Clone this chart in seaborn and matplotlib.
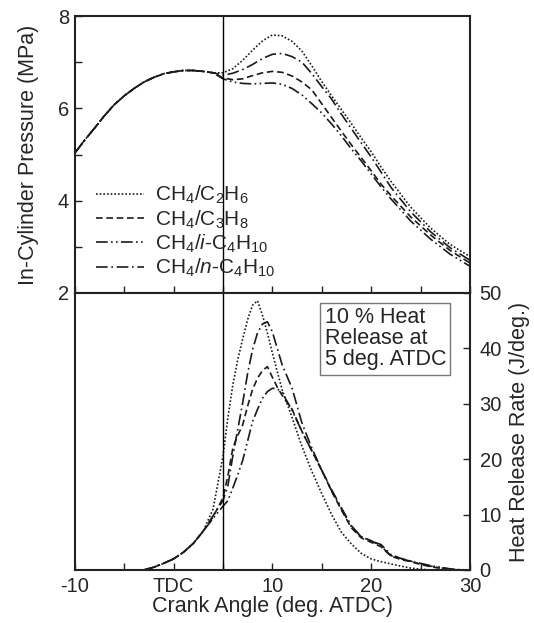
import matplotlib
matplotlib.use("Agg")
import matplotlib.pyplot as plt
import seaborn as sns
import numpy as np

# ---------------- data ----------------
theta_p = [-10, -9, -8, -7, -6, -5, -4, -3, -2, -1, 0, 1, 2, 3, 4, 5, 6, 7, 8, 9, 10,
           11, 12, 13, 14, 15, 16, 17, 18, 19, 20, 21, 22, 24, 26, 28, 30]
p_common = [5.03, 5.31, 5.57, 5.84, 6.08, 6.27, 6.43, 6.57, 6.67, 6.75, 6.79, 6.82,
            6.82, 6.80, 6.77]
p_c2h6 = p_common + [6.77, 6.86, 7.04, 7.26, 7.46, 7.59, 7.57, 7.45, 7.24, 6.92, 6.58,
                     6.27, 5.97, 5.67, 5.36, 5.06, 4.73, 4.42, 3.86, 3.41, 3.05, 2.79]
p_c3h8 = p_common + [6.66, 6.62, 6.64, 6.71, 6.77, 6.80, 6.78, 6.70, 6.57, 6.40, 6.10,
                     5.80, 5.50, 5.21, 4.93, 4.65, 4.36, 4.11, 3.65, 3.26, 2.92, 2.65]
p_ic4 = p_common + [6.64, 6.57, 6.54, 6.53, 6.54, 6.55, 6.52, 6.43, 6.29, 6.10, 5.90,
                    5.66, 5.40, 5.12, 4.86, 4.58, 4.30, 4.04, 3.56, 3.17, 2.84, 2.58]
p_nc4 = p_common + [6.72, 6.76, 6.84, 6.95, 7.08, 7.17, 7.19, 7.12, 7.00, 6.75, 6.47,
                    6.20, 5.87, 5.56, 5.25, 4.95, 4.62, 4.29, 3.76, 3.33, 2.98, 2.71]

theta_h = [-3, -2, -1, 0, 1, 2, 3, 4, 5, 5.5, 6, 6.5, 7, 7.5, 8, 8.5, 9, 9.5, 10, 10.5,
           11, 12, 13, 14, 15, 16, 17, 18, 19, 20, 21, 22, 23, 24, 25, 26, 27, 28, 29, 30]
h_common = [0.0, 0.5, 1.2, 2.0, 3.2, 4.8, 7.0]
h_c2h6 = h_common + [11.0, 20.5, 27.5, 33.4, 38.0, 41.7, 45.2, 47.8, 48.6, 46.0, 42.8,
                     39.2, 35.8, 32.5, 27.5, 22.3, 17.8, 13.8, 10.0, 6.8, 4.7, 3.0, 2.0,
                     1.5, 1.1, 0.7, 0.35, 0.15, 0.0, 0.0, 0.0, 0.0, 0.0]
h_c3h8 = h_common + [9.6, 13.0, 17.0, 22.0, 24.3, 26.2, 29.6, 32.6, 34.6, 36.0, 36.7,
                     34.8, 33.0, 31.5, 29.0, 25.0, 21.5, 18.0, 14.2, 10.8, 7.6, 5.8, 5.0,
                     4.2, 2.5, 1.9, 1.5, 1.0, 0.6, 0.3, 0.1, 0.0, 0.0]
h_ic4 = h_common + [9.3, 11.5, 12.5, 14.8, 17.2, 19.8, 23.3, 26.8, 29.0, 31.0, 32.2,
                    32.8, 32.7, 32.0, 28.8, 25.0, 21.5, 18.0, 14.3, 11.0, 7.8, 6.0, 5.2,
                    4.6, 2.8, 2.1, 1.6, 1.2, 0.8, 0.5, 0.2, 0.05, 0.0]
h_nc4 = h_common + [9.8, 12.5, 15.2, 20.6, 25.4, 30.2, 35.5, 39.8, 42.8, 44.4, 44.8,
                    43.0, 40.0, 37.0, 32.8, 26.5, 22.0, 18.0, 14.5, 11.2, 8.0, 6.0, 5.3,
                    4.3, 2.6, 2.0, 1.6, 1.1, 0.7, 0.4, 0.15, 0.0, 0.0]

labels = [r"CH$_4$/C$_2$H$_6$", r"CH$_4$/C$_3$H$_8$",
          r"CH$_4$/$\mathit{i}$-C$_4$H$_{10}$", r"CH$_4$/$\mathit{n}$-C$_4$H$_{10}$"]
xtick_vals = [-10, 0, 10, 20, 30]
xtick_labels = ["-10", "TDC", "10", "20", "30"]

# ---------------- style ----------------
sns.set_theme(style="ticks")
plt.rcParams["font.family"] = ["Liberation Sans", "DejaVu Sans"]
plt.rcParams["mathtext.fontset"] = "custom"
plt.rcParams["mathtext.rm"] = "Liberation Sans"
plt.rcParams["mathtext.it"] = "Liberation Sans:italic"
plt.rcParams["mathtext.default"] = "regular"

FS_T = 14.5   # tick labels
FS_L = 15.5   # axis labels / annotation
FS_G = 15.0   # legend
LC = "#1a1a1a"
styles = [(0, (1.0, 1.2)), (0, (4.0, 2.2)), (0, (7, 2, 1, 2, 1, 2)), (0, (7, 2.2, 1, 2.2))]

fig = plt.figure(figsize=(5.34, 6.23), dpi=100)
L, R = 0.140, 0.880
ax1 = fig.add_axes([L, 0.5297, R - L, 0.9743 - 0.5297])
ax2 = fig.add_axes([L, 0.0851, R - L, 0.5297 - 0.0851])

p_series = [p_c2h6, p_c3h8, p_ic4, p_nc4]
h_series = [h_c2h6, h_c3h8, h_ic4, h_nc4]
for ys, ls, lab in zip(p_series, styles, labels):
    sns.lineplot(x=theta_p, y=ys, ax=ax1, color=LC, lw=1.2, linestyle=ls,
                 errorbar=None, label=lab, legend=False)
for ys, ls in zip(h_series, styles):
    sns.lineplot(x=theta_h, y=ys, ax=ax2, color=LC, lw=1.2, linestyle=ls,
                 errorbar=None, legend=False)

for ax in (ax1, ax2):
    ax.axvline(5, color="black", lw=1.0)
    ax.set_xlim(-10, 30)
    for s in ax.spines.values():
        s.set_visible(True)
        s.set_linewidth(1.5)
        s.set_color("#222222")

# top panel
ax1.set_ylim(2, 8)
ax1.set_yticks([2, 4, 6, 8])
ax1.set_yticks(np.arange(2, 9, 1), minor=True)
ax1.set_xticks(np.arange(-10, 31, 5))
ax1.tick_params(axis="x", direction="in", length=5, width=1, labelbottom=False,
                bottom=True, top=False, color="#222222")
ax1.tick_params(axis="y", which="both", direction="in", length=5, width=1,
                left=True, right=False, labelsize=FS_T, color="#222222", pad=4)
ax1.set_ylabel("In-Cylinder Pressure (MPa)", fontsize=FS_L, labelpad=14)
ax1.set_xlabel("")

leg = ax1.legend(handles=ax1.get_lines()[:4], labels=labels, loc="lower left",
                 bbox_to_anchor=(0.02, 0.0), frameon=False, fontsize=FS_G,
                 handlelength=2.3, handletextpad=0.5, labelspacing=0.1,
                 borderpad=0.15)

# bottom panel
ax2.set_ylim(0, 50)
ax2.yaxis.tick_right()
ax2.yaxis.set_label_position("right")
ax2.set_yticks([0, 10, 20, 30, 40, 50])
ax2.set_xticks(np.arange(-10, 31, 5), minor=True)
ax2.set_xticks(xtick_vals)
ax2.set_xticklabels(xtick_labels)
ax2.tick_params(axis="x", which="both", direction="in", length=5, width=1,
                bottom=True, top=False, labelsize=FS_T, color="#222222", pad=5)
ax2.tick_params(axis="y", direction="in", length=5, width=1, right=True,
                left=False, labelsize=FS_T, color="#222222", pad=7)
ax2.set_xlabel("Crank Angle (deg. ATDC)", fontsize=FS_L, labelpad=0)
ax2.set_ylabel("Heat Release Rate (J/deg.)", fontsize=FS_L, labelpad=5)

ax2.text(0.632, 0.948, "10 % Heat\nRelease at\n5 deg. ATDC", transform=ax2.transAxes,
         ha="left", va="top", fontsize=FS_L, linespacing=1.0,
         bbox=dict(boxstyle="square,pad=0.2", facecolor="white",
                   edgecolor="#777777", linewidth=1.0))

fig.savefig("out.png", dpi=100)
